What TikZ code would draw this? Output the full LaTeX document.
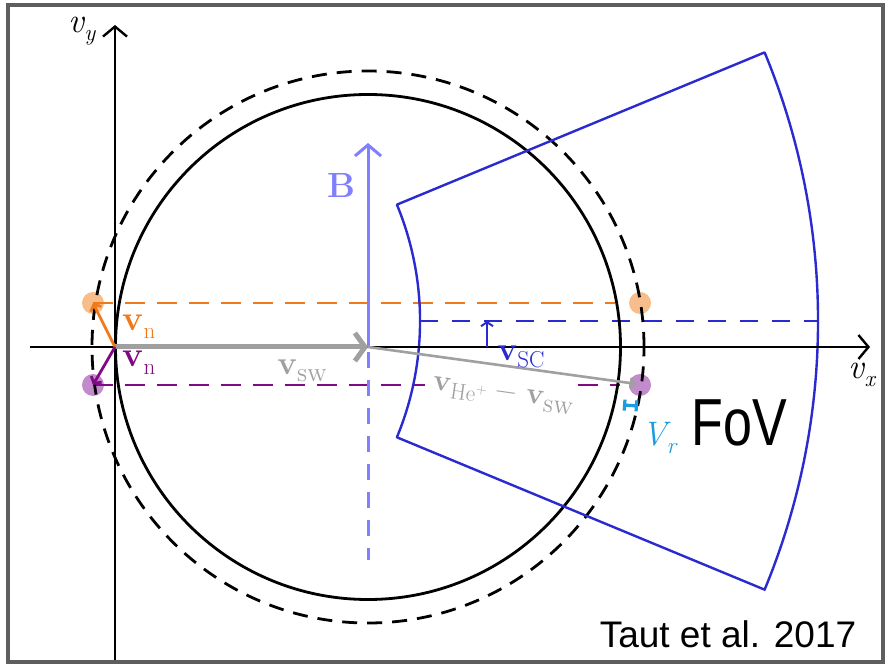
\documentclass[tikz,border=0pt]{standalone}
\usepackage{fontspec}
\newfontfamily\arialf{Liberation Sans}
\usetikzlibrary{arrows.meta}
\definecolor{orng}{HTML}{F07A1A}
\definecolor{orngdot}{HTML}{F7BE8C}
\definecolor{purp}{HTML}{7F0A84}
\definecolor{purpdot}{HTML}{C28BCB}
\definecolor{lav}{HTML}{8080FF}
\definecolor{fovblue}{HTML}{2A2AD0}
\definecolor{gry}{HTML}{A0A0A0}
\definecolor{cyn}{HTML}{1E9AE0}
\definecolor{framegray}{HTML}{5E5E5E}
\newcommand{\lowtx}[1]{\raisebox{-0.22em}{\fontsize{23}{25}\selectfont #1}}
\newcommand{\uptx}[1]{\raisebox{0.35em}{\fontsize{15}{17}\selectfont #1}}
\begin{document}
\begin{tikzpicture}[x=1pt,y=1pt,
  axisline/.style={line width=2.4pt, black},
  chev/.style={-{Straight Barb[length=10pt,width=24pt]}},
  lbl/.style={inner sep=0pt, font=\fontsize{33}{36}\selectfont},
  dotstyle/.style={circle, minimum size=22pt, inner sep=0pt},
  ldash/.style={line width=2.6pt, dash pattern=on 20pt off 12pt}]
\useasboundingbox (0,0) rectangle (885,664);
\fill[white] (0,0) rectangle (885,664);
\draw[framegray, line width=4pt] (8,2) rectangle (883,659);

% coordinates
\coordinate (O) at (115,317);
\coordinate (C) at (368,317);
\coordinate (ybot) at (115,4);
\coordinate (ytop) at (115,639);
\coordinate (xl) at (30,317);
\coordinate (xr) at (870,317);
\coordinate (Btop) at (368,521);
\coordinate (Bmid) at (368,312);
\coordinate (Bbot) at (368,104);
\coordinate (odL) at (93,361);
\coordinate (odR) at (615,361);
\coordinate (pdL) at (93,279);
\coordinate (pdA) at (425,279);
\coordinate (pdB) at (578,279);
\coordinate (pdR) at (620,279);
\coordinate (F0) at (116,343);
\coordinate (bdL) at (420,343);
\coordinate (bdR) at (818,343);
\coordinate (scB) at (487,317);
\coordinate (scT) at (487,343);
\coordinate (vr1) at (623,259);
\coordinate (vr2) at (638,258);
\coordinate (gEnd) at (637,280);

% dots
\node[dotstyle, fill=orngdot] (dOL) at (93,361) {};
\node[dotstyle, fill=orngdot] (dOR) at (640,361) {};
\node[dotstyle, fill=purpdot] (dPL) at (93,279) {};
\node[dotstyle, fill=purpdot] (dPR) at (640,279) {};

% dashed horizontal lines
\draw[ldash, orng] (odL) -- (odR);
\draw[ldash, purp] (pdL) -- (pdA);
\draw[ldash, purp] (pdB) -- (pdR);
\draw[fovblue, line width=2.2pt, dash pattern=on 18pt off 14pt] (bdL) -- (bdR);

% circles
\draw[line width=2.8pt] (C) circle[radius=252.5pt];
\draw[line width=2.8pt, dash pattern=on 15pt off 10pt] (C) circle[radius=276pt];

% FoV sector
\draw[fovblue, line width=2.4pt, line join=round]
  (396.9,226.7) arc[start angle=-22.5, end angle=22.5, radius=304pt]
  -- (764.6,611.6) arc[start angle=22.5, end angle=-22.5, radius=702pt] -- cycle;

% axes
\draw[axisline, chev] (ybot) -- (ytop);
\draw[axisline, chev] (xl) -- (xr);

% B field
\draw[lav, line width=3pt, -{Straight Barb[length=11pt,width=26pt]}] (C) -- (Btop);
\draw[lav, line width=3pt, dash pattern=on 16pt off 12pt] (Bmid) -- (Bbot);

% solar wind
\draw[gry, line width=5pt, -{Straight Barb[length=10pt,width=28pt]}] (O) -- (C);
\draw[gry, line width=2.6pt, -{Straight Barb[length=5pt,width=10pt]}] (C) -- (gEnd);

% v_n arrows
\draw[orng, line width=2.8pt, -{Straight Barb[length=5pt,width=12pt]}] (O) -- (dOL.center);
\draw[purp, line width=2.8pt, -{Straight Barb[length=5pt,width=12pt]}] (O) -- (dPL.center);

% v_SC
\draw[fovblue, line width=2pt, -{Straight Barb[length=4pt,width=12pt]}] (scB) -- (scT);

% V_r
\draw[cyn, line width=3.2pt, {Bar[width=11pt]}-{Bar[width=11pt]}] (vr1) -- (vr2);

% labels
\node[lbl, font=\fontsize{35}{38}\selectfont] (lvy) at (82,633) {\itshape v\lowtx{y}};
\node[lbl, font=\fontsize{35}{38}\selectfont] (lvx) at (862,289) {\itshape v\lowtx{x}};
\node[lbl, text=lav, font=\fontsize{35}{38}\selectfont\bfseries] (lB) at (341,479) {B};
\node[lbl, text=gry] (lsw) at (302,293) {\textbf{v}\lowtx{\textsc{sw}}};
\node[lbl, text=gry, rotate=-8, font=\fontsize{30}{33}\selectfont] (lhe) at (503,268) {\textbf{v}\lowtx{He\uptx{+}} \symbol{"2212} \textbf{v}\lowtx{\textsc{sw}}};
\node[lbl, text=fovblue] (lsc) at (521,307) {\textbf{v}\lowtx{SC}};
\node[lbl, text=orng, font=\fontsize{35}{38}\selectfont] (lno) at (139,337) {\textbf{v}\lowtx{n}};
\node[lbl, text=purp, font=\fontsize{35}{38}\selectfont] (lnp) at (139,301) {\textbf{v}\lowtx{n}};
\node[lbl, text=cyn, font=\fontsize{34}{37}\selectfont] (lvr) at (659,226) {\itshape V\lowtx{r}};
\node[inner sep=0pt, yscale=1.28, font=\arialf\fontsize{52}{58}\selectfont] (lfov) at (739,241) {FoV};
\node[inner sep=0pt, font=\arialf\fontsize{37}{42}\selectfont] (ltaut) at (728,30) {Taut et al. 2017};
\end{tikzpicture}
\end{document}
